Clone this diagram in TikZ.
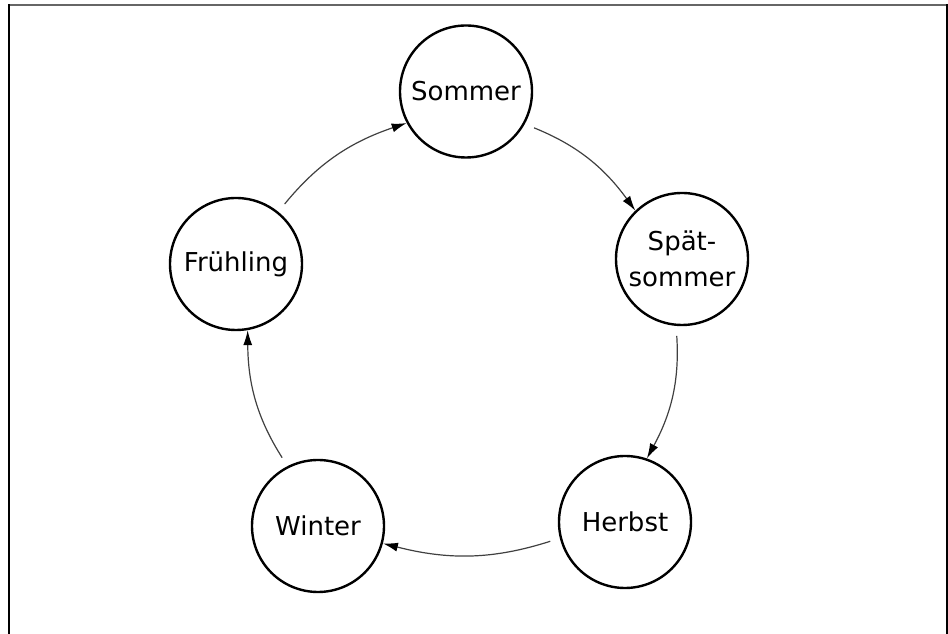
\documentclass[tikz,border=0pt]{standalone}
\usepackage{fontspec}
\setmainfont{DejaVu Sans}
\usetikzlibrary{arrows.meta}
\begin{document}
\begin{tikzpicture}[x=1pt,y=1pt,
  season/.style={circle,draw=black,line width=2.4pt,minimum size=132pt,inner sep=0pt,align=center,font=\fontsize{26}{36}\selectfont},
  flow/.style={draw=black!75,line width=1.2pt,-{Latex[length=15pt,width=9pt,black]},shorten <=10pt,bend left=16},
  frame/.style={line width=2pt}]
\useasboundingbox (0,0) rectangle (948,634);
\draw[frame,black!60] (9,629) -- (947,629);
\draw[frame] (9,0) -- (9,630);
\draw[frame] (947,0) -- (947,630);
\node[season] (so) at (466,542.5) {Sommer};
\node[season] (sp) at (682,375) {Spät-\\sommer};
\node[season] (he) at (625,112) {Herbst};
\node[season] (wi) at (318,108) {Winter};
\node[season] (fr) at (236,370) {Frühling};
\draw[flow] (fr.51) to (so.208);
\draw[flow] (so.-29) to (sp.134);
\draw[flow] (sp.-95) to (he.71);
\draw[flow] (he.194) to (wi.-15);
\draw[flow] (wi.117) to (fr.-80);
\end{tikzpicture}
\end{document}
